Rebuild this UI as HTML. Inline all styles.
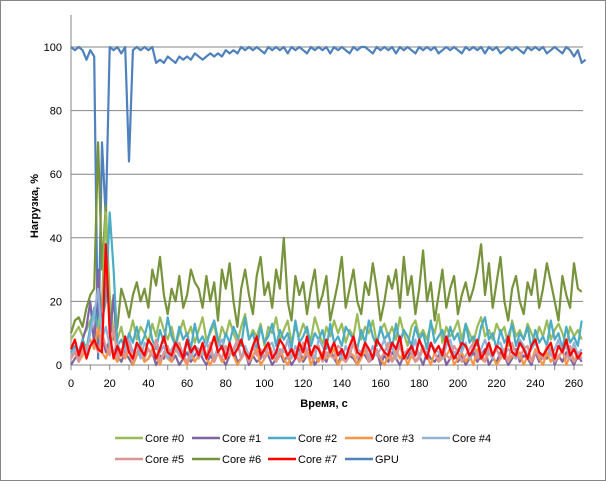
<!DOCTYPE html>
<html><head><meta charset="utf-8"><style>
body{margin:0;background:#fff;font-family:"Liberation Sans",sans-serif}
#c{position:absolute;left:0;top:0;width:604px;height:479px;border:1px solid #868686;background:#fff}
</style></head><body>
<div id="c">
<svg id="s" width="606" height="481"></svg>
</div>
<script>
const timeStep = 2;
const yTicks = [0,20,40,60,80,100];
const xTicks = [0,20,40,60,80,100,120,140,160,180,200,220,240,260];
const seriesNames = ["Core #0","Core #1","Core #2","Core #3","Core #4","Core #5","Core #6","Core #7","GPU"];
const core0 = [8,10,12,9,11,14,16,12,20,48,22,10,8,12,6,9,14,8,12,10,7,13,9,15,11,8,12,6,10,14,9,12,7,11,15,8,10,13,6,12,9,14,10,7,12,16,8,11,9,13,6,12,10,15,8,11,14,7,12,9,13,10,8,15,11,6,12,9,14,10,13,7,11,9,16,8,12,10,14,7,11,13,9,12,8,15,10,6,12,14,9,11,8,13,10,16,7,12,9,11,14,8,13,10,7,12,15,9,11,8,13,10,12,6,14,9,11,8,13,10,7,12,9,14,8,11,13,10,6,12,9,11,8];
const core1 = [0,2,4,8,12,20,6,30,10,4,8,22,3,1,4,2,0,3,5,1,2,4,0,3,2,5,1,3,0,2,4,1,3,5,2,0,3,1,4,2,0,3,5,1,2,4,0,3,1,2,5,3,0,2,4,1,3,0,2,5,1,3,4,0,2,3,1,5,2,0,4,1,3,2,0,4,3,1,2,5,0,3,1,4,2,0,3,2,5,1,3,0,4,2,1,3,5,0,2,4,1,3,0,2,4,1,3,5,0,2,1,4,3,0,2,5,1,3,2,0,4,1,3,2,5,0,3,1,4,2,0,3,1];
const core2 = [4,6,3,8,5,12,18,10,14,20,48,30,6,8,5,10,7,12,6,9,14,8,5,11,7,15,9,6,12,8,10,5,13,7,9,6,11,14,8,5,10,7,12,9,6,15,8,10,5,12,7,9,13,6,11,8,10,5,14,7,9,12,6,10,8,11,5,13,7,9,6,12,10,8,5,11,7,14,9,6,12,8,10,5,13,7,11,9,6,12,8,10,5,14,7,9,11,6,12,8,10,5,13,7,9,6,12,15,8,10,5,11,7,9,13,6,10,8,12,5,11,7,9,6,14,8,10,5,12,7,9,6,14];
const core3 = [2,4,1,3,6,8,5,12,4,2,6,3,1,4,2,5,0,3,4,1,2,5,3,0,4,2,1,5,3,2,0,4,1,3,5,2,0,3,4,1,2,5,3,0,2,4,1,3,5,0,2,4,3,1,5,2,0,3,4,1,2,5,0,3,1,4,2,3,5,0,2,1,4,3,0,2,5,1,3,4,2,0,3,1,5,2,4,0,3,1,2,5,3,0,4,1,2,3,5,0,2,4,1,3,0,5,2,1,4,3,0,2,5,1,3,2,4,0,3,1,5,2,0,4,1,3,2,5,0,3,1,4,2];
const core4 = [3,5,2,6,4,10,16,24,8,12,6,4,7,3,5,8,4,6,2,7,5,3,8,4,6,2,5,7,3,4,8,2,6,5,3,7,4,2,6,8,3,5,4,7,2,6,3,5,8,4,2,6,7,3,5,4,8,2,6,3,7,5,4,2,8,6,3,5,7,4,2,6,3,8,5,4,7,2,6,3,5,8,4,6,2,7,3,5,4,8,2,6,3,7,5,4,2,6,8,3,5,4,7,2,6,3,5,8,4,2,6,7,3,5,4,2,8,6,3,5,7,4,2,6,3,5,8,4,6,2,7,3,5];
const core5 = [2,4,1,5,3,6,8,4,10,6,3,12,2,5,3,7,1,4,6,2,5,3,8,1,4,6,2,5,7,3,1,4,6,2,5,3,7,1,4,2,6,3,5,8,2,4,1,6,3,5,2,7,4,1,3,6,2,5,4,1,7,3,2,5,6,1,4,3,2,6,5,1,3,7,2,4,6,1,3,5,2,4,7,1,3,6,2,5,4,1,3,6,2,7,4,1,5,3,2,6,4,1,3,5,7,2,4,1,6,3,5,2,4,1,7,3,2,5,6,1,4,3,2,6,5,1,3,4,2,6,1,3,2];
const core6 = [10,14,15,12,18,22,24,70,30,50,18,8,12,24,20,15,22,26,20,24,18,30,25,34,22,16,24,20,28,18,22,30,26,24,18,28,20,26,14,30,24,32,20,12,24,30,22,16,28,34,22,26,18,30,24,40,20,14,28,22,26,16,24,30,18,22,28,14,20,26,34,18,24,30,20,16,26,22,32,24,14,20,28,24,30,18,34,22,28,16,24,36,20,26,14,22,30,18,24,28,16,22,26,20,24,30,38,22,32,18,26,34,20,14,24,28,20,16,26,22,30,18,24,32,26,20,14,28,22,18,32,24,23];
const core7 = [5,8,3,7,2,6,8,5,4,38,10,2,6,3,9,4,2,7,5,3,8,6,2,5,9,4,3,7,5,2,8,4,6,3,7,2,5,9,4,6,2,7,3,5,8,4,2,6,9,3,5,7,2,4,8,6,3,5,2,7,4,9,3,6,5,2,8,4,7,3,5,2,6,9,4,3,7,5,2,8,6,4,3,7,5,9,2,4,6,3,8,5,2,7,4,6,3,9,5,2,4,7,6,3,5,8,2,4,7,3,6,5,2,9,4,3,7,5,2,6,8,4,3,5,7,2,6,4,8,3,5,2,4];
const gpu = [100,99,100,99,96,99,97,2,70,46,100,99,100,98,100,64,99,100,99,100,99,100,95,96,95,97,96,95,97,96,97,96,98,97,96,97,98,97,98,97,99,98,99,98,100,99,100,99,100,99,98,100,99,100,99,100,98,100,99,100,99,98,100,99,100,99,100,98,100,99,100,99,98,100,99,100,100,99,98,100,99,100,99,100,98,100,99,100,99,98,100,99,100,99,100,98,99,100,99,100,99,98,100,99,100,99,100,98,100,99,100,98,99,100,99,100,99,98,100,99,100,99,100,98,99,100,99,98,100,99,97,99,95,96];
const seriesData = [core0,core1,core2,core3,core4,core5,core6,core7,gpu];
const colors = ["#9BBB59","#8064A2","#4BACC6","#F79646","#95B3D7","#D99694","#77933C","#FF0000","#4F81BD"];
const drawOrder = [8,6,0,1,2,3,4,5,7];

const NS="http://www.w3.org/2000/svg";
const svg=document.getElementById('s');
const L=70,R=582,T=14,B=364;
const xs=t=>L+t*(573-70)/260;
const ys=v=>B-v*(B-46)/100;
function mk(tag,attrs,parent){const e=document.createElementNS(NS,tag);for(const k in attrs)e.setAttribute(k,attrs[k]);(parent||svg).appendChild(e);return e;}

yTicks.forEach(v=>{
  if(v>0){const g=mk('line',{x1:L,x2:R,y1:ys(v),y2:ys(v),stroke:'#868686','stroke-width':1});
  
  }
  const t=mk('text',{x:61,y:ys(v)+4,'text-anchor':'end','font-size':11,fill:'#000'});
  t.textContent=v;
  
  
});
for(let t=0;t<=265;t+=10){
  const tk=mk('line',{x1:xs(t),x2:xs(t),y1:B,y2:B+5,stroke:'#868686'});
  
  
}
xTicks.forEach(v=>{
  const t=mk('text',{x:xs(v),y:386,'text-anchor':'middle','font-size':11,fill:'#000'});
  t.textContent=v;
  
  
});
const ax=mk('line',{x1:L,x2:L,y1:T,y2:B,stroke:'#868686'});


const axx=mk('line',{x1:L,x2:R,y1:B,y2:B,stroke:'#868686'});



drawOrder.forEach(i=>{
  const d=seriesData[i].map((v,j)=>(j?'L':'M')+xs(j*timeStep).toFixed(1)+','+ys(v).toFixed(1)).join('');
  const p=mk('path',{d:d,fill:'none',stroke:colors[i],'stroke-width':2.2,'stroke-linejoin':'round'});
  
  
});

const yt=mk('text',{x:0,y:0,transform:'translate(37,205) rotate(-90)','text-anchor':'middle','font-size':11,'font-weight':'bold'});
yt.textContent='Нагрузка, %';


const xt=mk('text',{x:323,y:406,'text-anchor':'middle','font-size':11,'font-weight':'bold'});
xt.textContent='Время, с';



const legX=[114,191,267,344,421];
seriesNames.forEach((n,i)=>{
  const row=i<5?0:1, col=i<5?i:i-5;
  const x=legX[col], y=row?462:441;
  const g=mk('g',{});
  
  
  mk('line',{x1:x,x2:x+28,y1:y-4,y2:y-4,stroke:colors[i],'stroke-width':2.5},g);
  const t=mk('text',{x:x+30,y:y,'font-size':11},g);
  t.textContent=n;
});
</script>
</body></html>
